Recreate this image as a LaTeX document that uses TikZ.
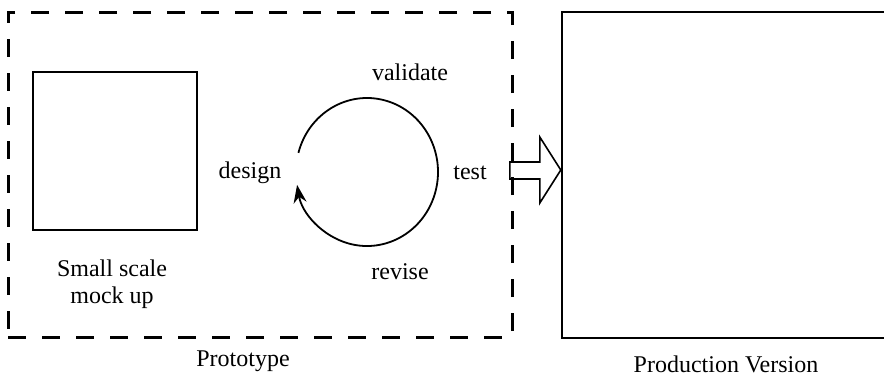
\documentclass[tikz,border=0pt]{standalone}
\usepackage{fontspec}
\setmainfont{Liberation Serif}
\usetikzlibrary{arrows.meta}
\tikzset{
  stage/.style={
    % The shape:
    shape=rectangle,
    % The border:
    draw=black,
    line width=1.5pt,
    dash pattern=on 9pt off 8pt
  }}
\tikzset{
	block/.style={
		% The shape:
		rectangle,
		% The rest
		draw=black,line width=1.2pt}}
\tikzset{
	lbl/.style={font=\fontsize{12}{13.5}\selectfont,align=center,inner sep=1pt}}

\begin{document}
\begin{tikzpicture}[x=0.5pt,y=-0.5pt]
	\useasboundingbox (0,0) rectangle (884,377);
	% The three boxes
	\node[stage,minimum width=252pt,minimum height=162.5pt] (proto) at (260,174.5) {};
	\node[block,minimum width=82pt,minimum height=79pt] (mockup) at (115,151) {};
	\node[block,minimum width=164pt,minimum height=163pt] (prod) at (726,175) {};
	% Labels of the boxes
	\node[lbl] (mocktxt) at (112,284) {Small scale\\mock up};
	\node[lbl] (prototxt) at (243,361) {Prototype};
	\node[lbl] (prodtxt) at (726,364) {Production Version};
	% The design loop
	\coordinate (loop) at (367,172);
	\draw[line width=0.9pt,-{Stealth[length=9pt,width=6.5pt]}]
		(loop) ++(195:71 and 74) arc[start angle=195,end angle=530,x radius=71,y radius=74];
	\node[lbl] (validate) at (410,72) {validate};
	\node[lbl] (design) at (250,173) {design};
	\node[lbl] (test) at (470,173) {test};
	\node[lbl] (revise) at (400,272) {revise};
	% Hollow arrow from the prototype to production
	\draw[line width=0.8pt] ([yshift=2.5pt]prod.west) coordinate (tip)
		-- ++(-21,-33) -- ++(0,25) -- ++(-30,0) -- ++(0,17)
		-- ++(30,0) -- ++(0,24) -- cycle;
\end{tikzpicture}
\end{document}
